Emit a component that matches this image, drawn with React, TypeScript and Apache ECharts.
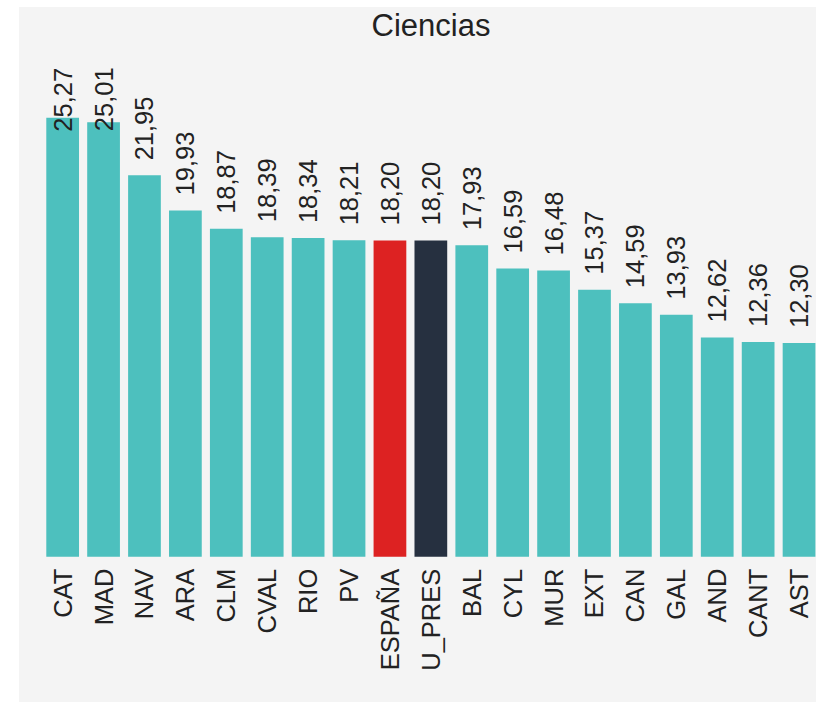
import React, { useEffect, useRef } from "react";
import * as echarts from "echarts";

const title = "Ciencias";
const categories = ["CAT", "MAD", "NAV", "ARA", "CLM", "CVAL", "RIO", "PV", "ESPAÑA", "U_PRES", "BAL", "CYL", "MUR", "EXT", "CAN", "GAL", "AND", "CANT", "AST"];
const values = [25.27, 25.01, 21.95, 19.93, 18.87, 18.39, 18.34, 18.21, 18.2, 18.2, 17.93, 16.59, 16.48, 15.37, 14.59, 13.93, 12.62, 12.36, 12.3];
const highlight: Record<string, string> = { "ESPAÑA": "#dd2222", "U_PRES": "#263040" };
const baseColor = "#4dc0be";
// labels that sit inside the bar top (distance below top)
const insideLabels: Record<string, number> = { CAT: 14, MAD: 9 };

const FONT = "'Liberation Sans', Arial, sans-serif";

export default function App() {
  const ref = useRef<HTMLDivElement>(null);
  useEffect(() => {
    if (!ref.current) return;
    const chart = echarts.init(ref.current, undefined, { renderer: "svg" });
    const data = categories.map((c, i) => {
      const item: any = {
        value: values[i],
        itemStyle: { color: highlight[c] || baseColor },
      };
      if (insideLabels[c] !== undefined) {
        item.label = { position: "top", distance: -insideLabels[c] };
      }
      return item;
    });
    chart.setOption({
      animation: false,
      backgroundColor: "transparent",
      title: {
        text: title,
        left: "center",
        top: 3,
        padding: 0,
        textStyle: { fontFamily: FONT, fontSize: 31, lineHeight: 31, fontWeight: "normal", color: "#222" },
      },
      grid: { left: 23.2, right: 23.5, top: 98, bottom: 145.3, containLabel: false },
      xAxis: {
        type: "category",
        data: categories,
        axisLine: { show: false },
        axisTick: { show: false },
        axisLabel: {
          rotate: 90,
          margin: 12,
          interval: 0,
          fontFamily: FONT,
          fontSize: 25.5,
          color: "#222",
        },
      },
      yAxis: {
        type: "value",
        min: 0,
        max: 26,
        show: false,
        splitLine: { show: false },
      },
      series: [
        {
          type: "bar",
          data,
          barCategoryGap: "20%",
          label: {
            show: true,
            position: "top",
            distance: 15,
            rotate: 90,
            align: "left",
            verticalAlign: "middle",
            fontFamily: FONT,
            fontSize: 25.5,
            color: "#222",
            formatter: (p: any) => Number(p.value).toFixed(2).replace(".", ","),
          },
        },
      ],
    });
    return () => chart.dispose();
  }, []);
  return (
    <div
      style={{
        position: "absolute",
        left: 19,
        top: 7,
        width: 797,
        height: 695,
        overflow: "hidden",
        background: "#f4f4f4",
      }}
    >
      <div ref={ref} style={{ width: 824, height: 695 }} />
    </div>
  );
}
